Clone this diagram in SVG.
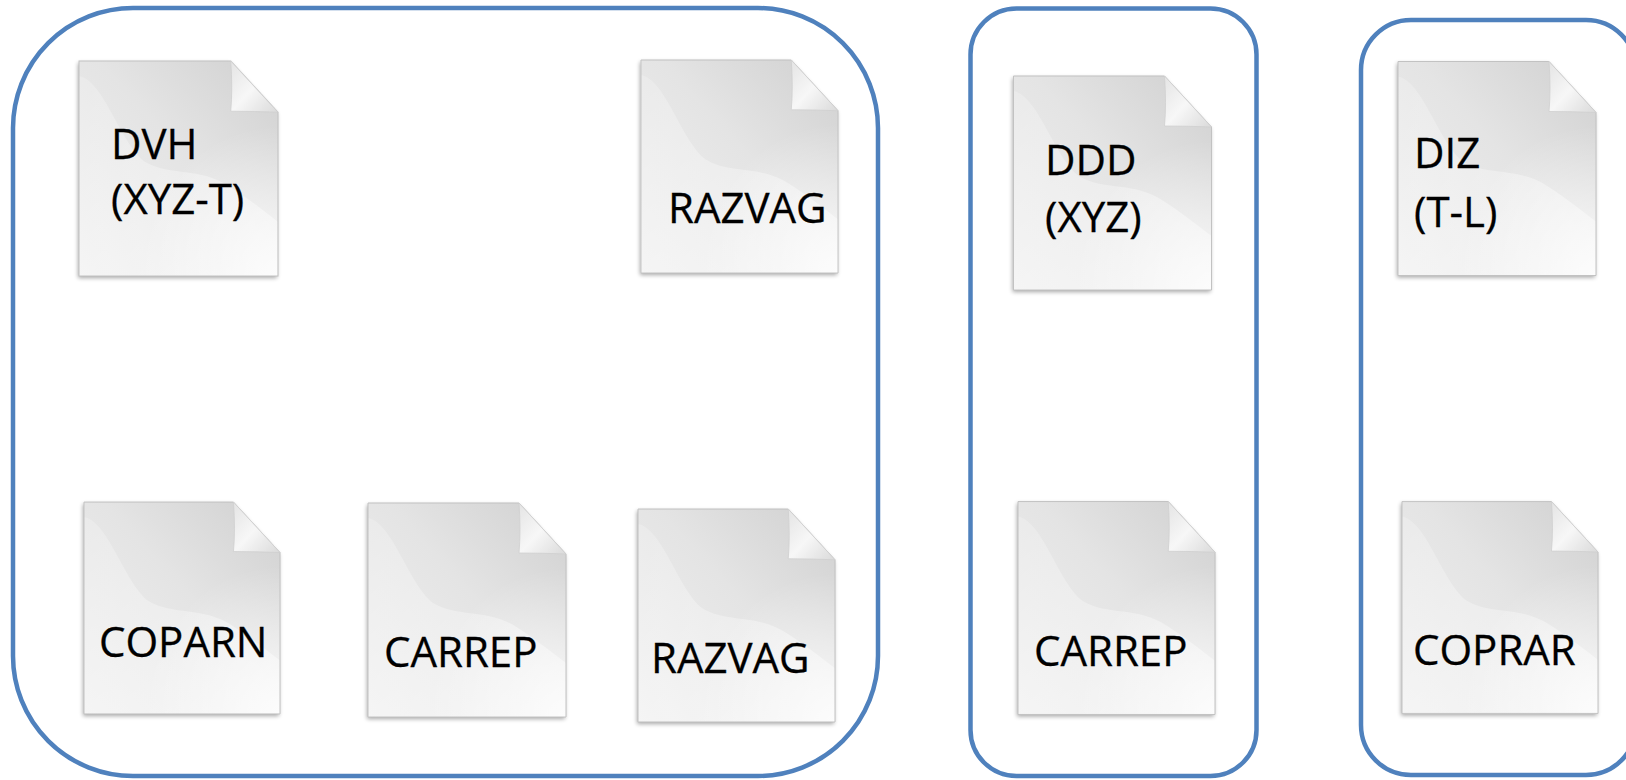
<svg xmlns="http://www.w3.org/2000/svg" xmlns:xlink="http://www.w3.org/1999/xlink" width="1626" height="780" viewBox="0 0 1626 780">
<style>
.box{fill:none;stroke:#4f81bd;stroke-width:4.5}
.lbl{font-family:"Open Sans","Noto Sans","Liberation Sans",sans-serif;font-size:42px;fill:#000;stroke:#000;stroke-width:0.3}
</style>
<defs>
<linearGradient id="pg" x1="0" y1="1" x2="1" y2="0">
<stop offset="0" stop-color="#f0f0f0"/>
<stop offset="0.55" stop-color="#e4e4e4"/>
<stop offset="1" stop-color="#d0d0d0"/>
</linearGradient>
<linearGradient id="wave" x1="0" y1="0" x2="1" y2="1">
<stop offset="0" stop-color="#ffffff" stop-opacity="0.2"/>
<stop offset="1" stop-color="#ffffff" stop-opacity="0.45"/>
</linearGradient>
<radialGradient id="hl" cx="1" cy="1" r="0.7">
<stop offset="0" stop-color="#ffffff" stop-opacity="0.8"/>
<stop offset="1" stop-color="#ffffff" stop-opacity="0"/>
</radialGradient>
<linearGradient id="fold" x1="0" y1="0" x2="1" y2="1">
<stop offset="0" stop-color="#e4e4e4"/>
<stop offset="0.5" stop-color="#f7f7f7"/>
<stop offset="1" stop-color="#dadada"/>
</linearGradient>
<filter id="sh" x="-10%" y="-10%" width="120%" height="120%">
<feGaussianBlur in="SourceAlpha" stdDeviation="2"/>
<feOffset dx="-1" dy="2" result="b"/>
<feComponentTransfer><feFuncA type="linear" slope="0.35"/></feComponentTransfer>
<feMerge><feMergeNode/><feMergeNode in="SourceGraphic"/></feMerge>
</filter>
<clipPath id="pc"><path d="M0,0 H151 L198,51 V214 H0 Z"/></clipPath>
<symbol id="doc" viewBox="0 0 198 214" overflow="visible">
<g filter="url(#sh)">
<path d="M0,0 H151 L198,51 V214 H0 Z" fill="url(#pg)"/>
</g>
<g clip-path="url(#pc)">
<path d="M0,15 C25,20 40,80 65,100 C90,115 120,105 150,125 C170,138 185,150 198,160 V214 H0 Z" fill="url(#wave)"/>
<rect x="0" y="0" width="198" height="214" fill="url(#hl)"/>
</g>
<path d="M0,0 H151 L198,51 V214 H0 Z" fill="none" stroke="#c2c2c2" stroke-width="1"/>
<path d="M151,0 Q153,28 151,50 Q175,50 198,51 Z" fill="url(#fold)" stroke="#cfcfcf" stroke-width="0.8"/>
</symbol>
</defs>
<rect width="1626" height="780" fill="#ffffff"/>
<g id="groups">
<rect id="group1" class="box" x="13" y="8" width="865" height="768" rx="120" ry="120"/>
<rect id="group2" class="box" x="970.5" y="8.5" width="286" height="767.5" rx="46" ry="46"/>
<rect id="group3" class="box" x="1361" y="20" width="275" height="755" rx="50" ry="50"/>
</g>
<g id="connectors"/>
<g id="dvh">
<use xlink:href="#doc" href="#doc" x="79" y="61" width="199" height="215"/>
<text class="lbl" x="111" y="159">DVH</text>
<text class="lbl" x="111" y="214">(XYZ-T)</text>
</g>
<g id="razvag1">
<use xlink:href="#doc" href="#doc" x="640" y="60" width="199" height="213"/>
<text class="lbl" x="668" y="223">RAZVAG</text>
</g>
<g id="ddd">
<use xlink:href="#doc" href="#doc" x="1013" y="76" width="199" height="214"/>
<text class="lbl" x="1045" y="175">DDD</text>
<text class="lbl" x="1045" y="232">(XYZ)</text>
</g>
<g id="diz">
<use xlink:href="#doc" href="#doc" x="1398" y="61" width="198" height="215"/>
<text class="lbl" x="1414" y="168">DIZ</text>
<text class="lbl" x="1414" y="227">(T-L)</text>
</g>
<g id="coparn">
<use xlink:href="#doc" href="#doc" x="84" y="501" width="196" height="214"/>
<text class="lbl" x="99" y="657">COPARN</text>
</g>
<g id="carrep1">
<use xlink:href="#doc" href="#doc" x="368" y="503" width="198" height="214"/>
<text class="lbl" x="384" y="667">CARREP</text>
</g>
<g id="razvag2">
<use xlink:href="#doc" href="#doc" x="638" y="508" width="197" height="215"/>
<text class="lbl" x="651" y="673">RAZVAG</text>
</g>
<g id="carrep2">
<use xlink:href="#doc" href="#doc" x="1018" y="501" width="197" height="214"/>
<text class="lbl" x="1034" y="666">CARREP</text>
</g>
<g id="coprar">
<use xlink:href="#doc" href="#doc" x="1402" y="500" width="196" height="215"/>
<text class="lbl" x="1413" y="665">COPRAR</text>
</g>
</svg>
